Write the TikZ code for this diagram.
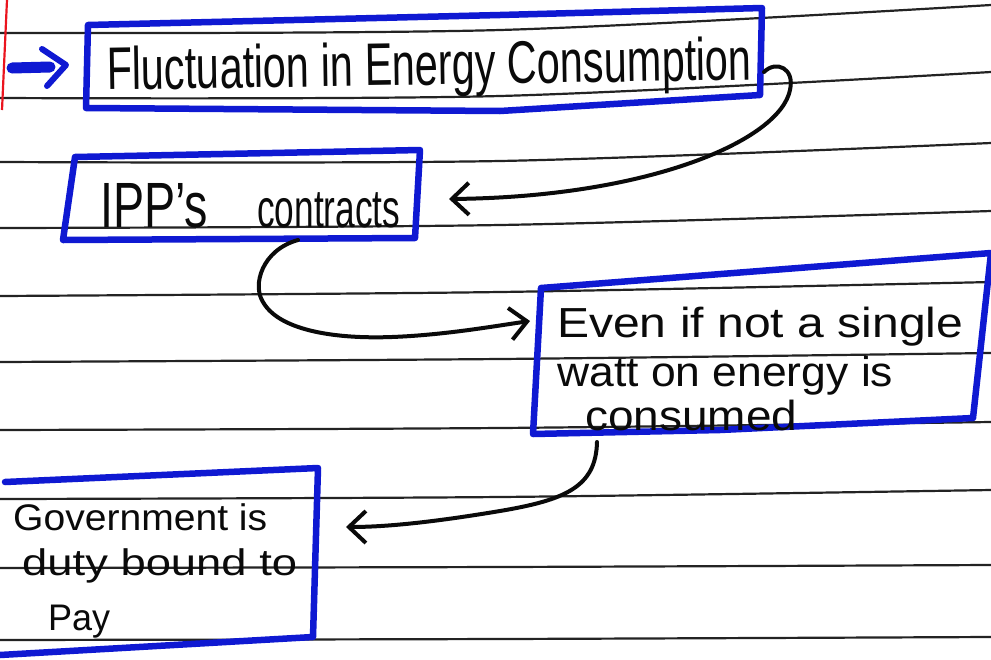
\documentclass[tikz,border=0pt]{standalone}
\usepackage{fontspec}
\setmainfont{Liberation Sans}
\usetikzlibrary{arrows.meta}
\definecolor{hwblue}{RGB}{15,25,210}
\definecolor{ink}{RGB}{10,10,10}
\definecolor{margin}{RGB}{235,20,30}
\tikzset{
  ruled/.style={line width=2.2pt, draw=ink!90},
  boxline/.style={draw=hwblue, line width=6.5pt, line join=round, line cap=round},
  conn/.style={draw=ink, line width=4pt, line cap=round, line join=round,
    -{Straight Barb[length=17pt,width=32pt,line width=4pt]}},
  hw/.style={anchor=base west, inner sep=0pt, text=ink},
  big/.style={hw, font=\fontsize{60}{64}\selectfont},
  mid/.style={hw, font=\fontsize{54}{58}\selectfont},
  sml/.style={hw, font=\fontsize{42}{46}\selectfont},
  tiny/.style={hw, font=\fontsize{37}{41}\selectfont},
}
\newcommand{\hwfit}[2]{\resizebox{#1}{\height}{#2}}
\begin{document}
\begin{tikzpicture}[x=1pt,y=-1pt]
\useasboundingbox[fill=white] (0,0) rectangle (991,659);
% ruled lines
\foreach \a/\b/\c in {33/30/5, 98/96/72, 162/161/143, 228/225/211, 296/292/282,
  362/359/353, 430/428/422, 499/497/490, 568/567/565, 640/639/637}
  \draw[ruled] plot[smooth] coordinates {(0,\a) (500,\b) (991,\c)};
% red margin
\draw[draw=margin, line width=2.2pt] (7,0) -- (2,110);
% boxes
\draw[boxline] (88,25) -- (500,15) -- (762,8) -- (760,95) -- (500,111) -- (86,108) -- cycle;
\draw[boxline] (75,157) -- (420,150) -- (415,238) -- (63,240) -- cycle;
\draw[boxline] (541,288) -- (991,253) -- (973,418) -- (720,430) -- (533,434) -- cycle;
\draw[boxline] (5,482) -- (318,468) -- (313,637) -- (0,655);
% texts
\node[big, rotate=0.9] (t1) at (107,90) {\hwfit{645pt}{Fluctuation in Energy Consumption}};
\node[mid] (t2) at (100,227) {\hwfit{108pt}{\fontsize{64}{68}\selectfont IPP’s}\hspace{49pt}\hwfit{143pt}{contracts}};
\node[sml] (t3a) at (557,337) {\hwfit{406pt}{Even if not a single}};
\node[sml] (t3b) at (557,386) {\hwfit{336pt}{watt on energy is}};
\node[sml] (t3c) at (585,430) {\hwfit{212pt}{consumed}};
\node[tiny] (t4a) at (13,530) {\hwfit{254pt}{Government is}};
\node[tiny] (t4b) at (22,575) {\hwfit{275pt}{duty bound to}};
\node[tiny] (t4c) at (48,630) {\hwfit{62pt}{Pay}};
% connector anchors
\coordinate (b1out) at (764,72);
\coordinate (b2in) at (449,199);
\coordinate (b2out) at (298,240);
\coordinate (b3in) at (530,321);
\coordinate (b3out) at (597,442);
\coordinate (b4in) at (346,527);
\coordinate (startA) at (12,68);
\coordinate (startB) at (66,65);
% connectors
\draw[conn] (b1out) .. controls (776,60) and (795,68) .. (790,90)
  .. controls (780,140) and (650,197) .. (b2in);
\draw[conn] (b2out) .. controls (262,250) and (252,285) .. (263,302)
  .. controls (280,332) and (340,339) .. (392,337)
  .. controls (445,335) and (495,326) .. (b3in);
\draw[conn] (b3out) .. controls (596,487) and (565,500) .. (500,511)
  .. controls (440,521) and (390,527) .. (b4in);
% blue start arrow
\draw[draw=hwblue, line width=11pt, line cap=round] (startA) -- (50,67);
\draw[draw=hwblue, line width=6pt, line cap=round, line join=round]
  (42,49) -- (startB) -- (47,86);
\end{tikzpicture}
\end{document}
